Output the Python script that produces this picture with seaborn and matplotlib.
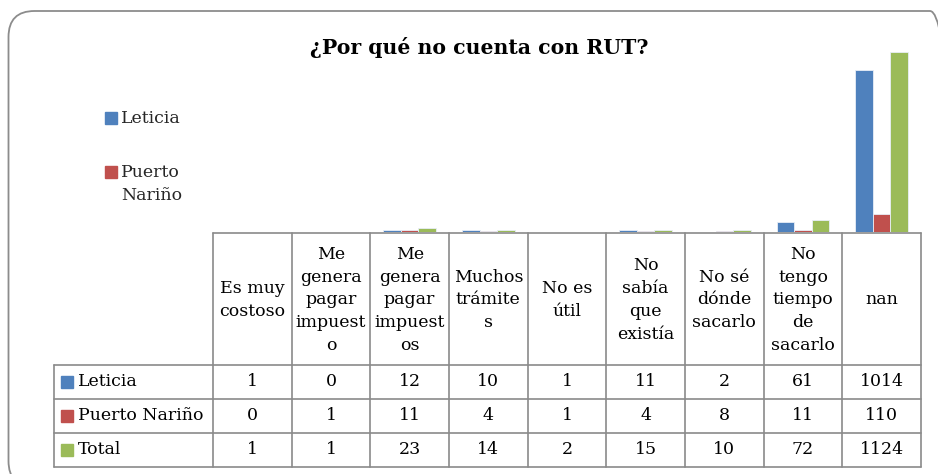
import matplotlib
matplotlib.use("Agg")
import matplotlib.pyplot as plt
import seaborn as sns
import pandas as pd
from matplotlib.transforms import blended_transform_factory, IdentityTransform
from matplotlib.patches import FancyBboxPatch, Rectangle

categories = ["Es muy\ncostoso", "Me\ngenera\npagar\nimpuest\no", "Me\ngenera\npagar\nimpuest\nos",
              "Muchos\ntrámite\ns", "No es\nútil", "No\nsabía\nque\nexistía", "No sé\ndónde\nsacarlo",
              "No\ntengo\ntiempo\nde\nsacarlo", "nan"]
series = ["Leticia", "Puerto Nariño", "Total"]
leticia = [1, 0, 12, 10, 1, 11, 2, 61, 1014]
puerto = [0, 1, 11, 4, 1, 4, 8, 11, 110]
total = [1, 1, 23, 14, 2, 15, 10, 72, 1124]
title = "¿Por qué no cuenta con RUT?"

colors = ["#4F81BD", "#C0504D", "#9BBB59"]
W, H = 938, 474
FONT = "DejaVu Serif"
FS = 12.5

sns.set_theme(style="white")
plt.rcParams["font.family"] = [FONT, "DejaVu Sans"]

rows = []
for s, vals in zip(series, [leticia, puerto, total]):
    for c, v in zip(categories, vals):
        rows.append({"cat": c, "serie": s, "val": v})
df = pd.DataFrame(rows)

fig = plt.figure(figsize=(W / 100, H / 100), dpi=100)

def fx(x):
    return x / W

def fy(y):
    return 1 - y / H

# outer rounded border (pixel coordinates, extends past the right/bottom edges)
bx0, by_top, bx1, by_bot = 8.5, 11, 956, 487
border = FancyBboxPatch((bx0, H - by_bot), bx1 - bx0, by_bot - by_top,
                        boxstyle="round,pad=0,rounding_size=26",
                        transform=IdentityTransform(), fill=False,
                        edgecolor="#8c8c8c", linewidth=1.3)
fig.patches.append(border)

left, right, base, top = 213, 921, 232, 40
ax = fig.add_axes([fx(left), fy(base), fx(right - left), (base - top) / H])
sns.barplot(data=df, x="cat", y="val", hue="serie", palette=colors, width=0.667,
            ax=ax, legend=False, edgecolor="#e8eef7", linewidth=0.6, saturation=1)
ax.set_xlim(-0.5, len(categories) - 0.5)
ax.set_ylim(0, 1200)
ax.set_axis_off()

# title
fig.text(fx(479), fy(48), title, ha="center", va="center", fontsize=14.7,
         fontweight="bold", color="black")

# legend (only two entries visible)
fig.patches.append(Rectangle((fx(105), fy(124)), fx(12), 12 / H, color=colors[0],
                             transform=fig.transFigure))
fig.text(fx(121), fy(119), "Leticia", ha="left", va="center", fontsize=FS)
fig.patches.append(Rectangle((fx(105), fy(178)), fx(12), 12 / H, color=colors[1],
                             transform=fig.transFigure))
fig.text(fx(121), fy(184), "Puerto\nNariño", ha="left", va="center", fontsize=FS,
         linespacing=1.45)

# data table
tr = blended_transform_factory(ax.transData, fig.transFigure)
lc = "#8a8a8a"
lw = 1.2
n = len(categories)
row_y = [233, 365, 399, 433, 467]
for i in range(n + 1):
    fig.add_artist(plt.Line2D([i - 0.5, i - 0.5], [fy(row_y[0]), fy(row_y[-1])],
                              transform=tr, color=lc, linewidth=lw))
fig.add_artist(plt.Line2D([fx(left), fx(right)], [fy(row_y[0]), fy(row_y[0])],
                          transform=fig.transFigure, color=lc, linewidth=lw))
for y in row_y[1:]:
    fig.add_artist(plt.Line2D([fx(54), fx(right)], [fy(y), fy(y)],
                              transform=fig.transFigure, color=lc, linewidth=lw))
fig.add_artist(plt.Line2D([fx(54), fx(54)], [fy(row_y[1]), fy(row_y[-1])],
                          transform=fig.transFigure, color=lc, linewidth=lw))

# header text
for i, c in enumerate(categories):
    fig.text(i, fy((row_y[0] + row_y[1]) / 2 + 1), c, transform=tr, ha="center",
             va="center", fontsize=FS, linespacing=1.45, color="black")

# body rows
for r, (s, vals) in enumerate(zip(series, [leticia, puerto, total])):
    yc = fy((row_y[r + 1] + row_y[r + 2]) / 2)
    fig.patches.append(Rectangle((fx(61), yc - 6 / H), fx(12), 12 / H, color=colors[r],
                                 transform=fig.transFigure))
    fig.text(fx(78), yc, s, ha="left", va="center", fontsize=FS, color="black")
    for i, v in enumerate(vals):
        fig.text(i, yc, str(v), transform=tr, ha="center", va="center", fontsize=FS,
                 color="black")

fig.savefig("out.png", dpi=100)
